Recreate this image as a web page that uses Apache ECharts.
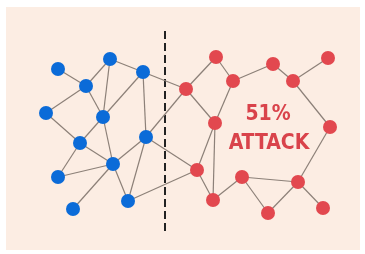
<!DOCTYPE html>
<html><head><meta charset="utf-8">
<script src="https://cdn.jsdelivr.net/npm/echarts@6/dist/echarts.min.js"></script>
<style>html,body{margin:0;padding:0;background:#fff}#c{width:365px;height:254px}</style>
</head><body><div id="c"></div>
<script>
const blueNodes = [
  ['B1',58,69],['B2',86,86],['B3',110,59],['B4',143,72],['B5',46,113],['B6',103,117],
  ['B7',80,143],['B8',146,137],['B9',113,164],['B10',58,177],['B11',128,201],['B12',73,209]
];
const redNodes = [
  ['Ra',216,57],['R1',186,89],['Rb',233,81],['Rc',273,64],['Rd',293,81],['Re',328,58],
  ['Rf',215,123],['Rg',330,127],['R5',197,170],['Rh',242,177],['Ri',298,182],
  ['Rj',213,200],['Rk',268,213],['Rl',323,208]
];
const edges = [
  ['B1','B2'],['B2','B3'],['B2','B5'],['B2','B6'],['B3','B4'],['B3','B6'],['B4','B6'],['B4','B8'],
  ['B4','R1'],['B5','B7'],['B6','B7'],['B6','B9'],['B7','B9'],['B7','B10'],['B10','B9'],['B9','B8'],
  ['B9','B12'],['B9','B11'],['B8','B11'],['B8','R1'],['B8','R5'],['B11','R5'],
  ['R1','Ra'],['Ra','Rb'],['R1','Rf'],['Rb','Rf'],['Rb','Rc'],['Rc','Rd'],['Rd','Re'],['Rd','Rg'],
  ['Rg','Ri'],['Rf','R5'],['Rf','Rj'],['R5','Rj'],['Rj','Rh'],['Rh','Ri'],['Rh','Rk'],['Rk','Ri'],['Ri','Rl']
];
const divider = [[165,31],[165,232]];
const labelLines = [['51%',268,115],['ATTACK',269,144]];

const BLUE='#0b6bd8', RED='#e2484f';
const nodes = blueNodes.map(n=>({name:n[0],value:[n[1],n[2]],itemStyle:{color:BLUE}}))
  .concat(redNodes.map(n=>({name:n[0],value:[n[1],n[2]],itemStyle:{color:RED}})));

const chart = echarts.init(document.getElementById('c'));
chart.setOption({
  backgroundColor:'#ffffff',
  animation:false,
  grid:{left:6,top:7,right:5,bottom:4,show:true,backgroundColor:'#fcede3',borderWidth:0},
  xAxis:{type:'value',min:6,max:360,show:false},
  yAxis:{type:'value',min:7,max:250,inverse:true,show:false},
  series:[
    {type:'line',data:divider,symbol:'none',lineStyle:{color:'#222',width:2,type:[8,4]},z:1},
    {type:'graph',coordinateSystem:'cartesian2d',data:nodes,
     links:edges.map(e=>({source:e[0],target:e[1]})),
     symbol:'circle',symbolSize:14,
     lineStyle:{color:'#8c8078',width:1.2,opacity:1},
     label:{show:false},z:2}
  ]
});
const textEls = labelLines.map(l=>{
  const p = chart.convertToPixel({gridIndex:0},[l[1],l[2]]);
  return {type:'text',x:p[0],y:p[1],z:10,style:{text:l[0],fill:'#d9434b',
    font:'bold 21px "Liberation Sans Narrow", "DejaVu Sans Condensed", "Liberation Sans", sans-serif',
    align:'center',verticalAlign:'middle'}};
});
chart.setOption({graphic:textEls});
</script></body></html>
